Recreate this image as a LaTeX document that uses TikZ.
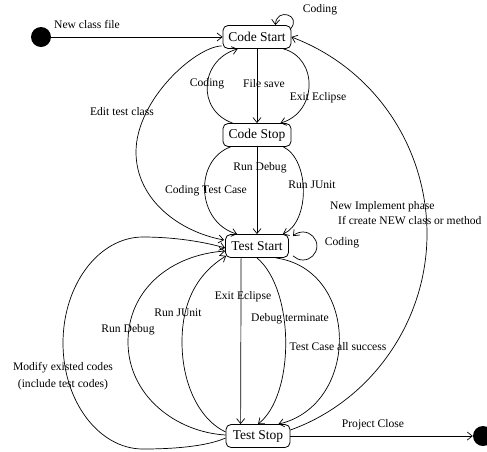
\documentclass[tikz,border=0pt]{standalone}
\usepackage{fontspec}
\setmainfont{Liberation Serif}
\usetikzlibrary{arrows.meta,calc}
\begin{document}
\begin{tikzpicture}[x=1pt,y=-1pt,
  stbox/.style={draw, line width=0.8pt, rounded corners=5pt, minimum height=23pt,
    inner xsep=4pt, font=\fontsize{13.5}{15}\selectfont},
  lbl/.style={font=\fontsize{11.6}{13}\selectfont, inner sep=0pt},
  arr/.style={draw, line width=0.7pt, -{Straight Barb[length=5pt,width=8pt]}},
  blob/.style={circle, fill=black, minimum size=20pt, inner sep=0pt}]
\useasboundingbox (0,0) rectangle (487,451);

% pseudo states
\node[blob] (init) at (41,37) {};
\node[blob] (final) at (483,436) {};

% states
\node[stbox, minimum width=68pt] (cs) at (257,37) {Code Start};
\node[stbox, minimum width=68pt] (cp) at (257,135) {Code Stop};
\node[stbox, minimum width=63pt] (ts) at (257,246) {Test Start};
\node[stbox, minimum width=64pt] (tp) at (258,436) {Test Stop};

% coding phase
\draw[arr] (init) -- (cs);
\draw[arr] ($(cs.north east)+(-1,4)$) .. controls +(12,-14) and +(1,-18) .. ($(cs.north east)+(-16,0)$);
\draw[arr] (cs) -- (cp);
\draw[arr] ($(cp.north west)+(10,0)$) .. controls (196,110) and (200,60) .. ($(cs.south west)+(15,0)$);
\draw[arr] ($(cs.south east)+(-8,0)$) .. controls (318,58) and (318,112) .. ($(cp.north east)+(-11,0)$);

% towards testing
\draw[arr] (cp) -- (ts);
\draw[arr] ($(cp.south west)+(8,0)$) .. controls (194,160) and (196,222) .. ($(ts.north west)+(12,0)$);
\draw[arr] ($(cp.south east)+(-8,0)$) .. controls (310,160) and (310,222) .. ($(ts.north east)+(-6,0)$);
\draw[arr] ($(cs.south west)+(-1,-3)$) .. controls (195,47) and (136,100) .. (136,152)
  .. controls (136,200) and (180,232) .. ($(ts.west)+(-1,-6)$);

% self loop on Test Start
\coordinate (tsc) at ($(ts.east)+(14,0)$);
\draw[arr] ($(tsc)+(-9.9,9.9)$)
  .. controls ($(tsc)+(-7.3,12.5)$) and ($(tsc)+(-3.7,14)$) .. ($(tsc)+(0,14)$)
  .. controls ($(tsc)+(7.7,14)$) and ($(tsc)+(14,7.7)$) .. ($(tsc)+(14,0)$)
  .. controls ($(tsc)+(14,-7.7)$) and ($(tsc)+(7.7,-14)$) .. ($(tsc)+(0,-14)$)
  .. controls ($(tsc)+(-3.7,-14)$) and ($(tsc)+(-7.3,-12.5)$) .. ($(tsc)+(-9.9,-9.9)$);

% back from Test Stop to Test Start
\draw[arr] ($(tp.west)+(0,2)$) .. controls (205,447) and (170,449) .. (143,449)
  .. controls (99,449) and (63,401.5) .. (63,343)
  .. controls (63,284.5) and (99,237) .. (143,237)
  .. controls (175,237) and (205,242) .. ($(ts.west)+(0,2)$);
\draw[arr] ($(tp.west)+(0,-1)$) .. controls (175,432) and (128,395) .. (128,342)
  .. controls (128,290) and (170,255) .. ($(ts.west)+(0,5)$);
\draw[arr] ($(tp.west)+(0,-4)$) .. controls (200,420) and (182,385) .. (182,342)
  .. controls (182,305) and (195,275) .. ($(ts.south west)+(1,-2)$);

% from Test Start to Test Stop
\draw[arr] ($(ts.south west)+(16,0)$) -- ($(tp.north west)+(15,0)$);
\draw[arr] (ts.south) .. controls (295,290) and (295,395) .. (tp.north);
\draw[arr] ($(ts.south east)+(-13,0)$) .. controls (360,270) and (360,405) .. ($(tp.north east)+(-12,0)$);

% new implement phase and project close
\draw[arr] ($(tp.east)+(0,-6)$) .. controls (371.9,400.7) and (427,321) .. (427,234)
  .. controls (427,147) and (374.5,68.4) .. (cs.east);
\draw[arr] (tp) -- (final);

% transition labels
\node[lbl] (l1) at (87,24) {New class file};
\node[lbl] (l2) at (320,10) {Coding};
\node[lbl] (l3) at (264,84) {File save};
\node[lbl] (l4) at (207,84) {Coding};
\node[lbl] (l5) at (318,98) {Exit Eclipse};
\node[lbl] (l6) at (122,112) {Edit test class};
\node[lbl] (l7) at (260,168) {Run Debug};
\node[lbl] (l8) at (206,191) {Coding Test Case};
\node[lbl] (l9) at (312,185) {Run JUnit};
\node[lbl, anchor=west] (l10) at (330,207) {New Implement phase};
\node[lbl, anchor=west] (l11) at (338,220) {If create NEW class or method};
\node[lbl] (l12) at (342,243) {Coding};
\node[lbl] (l13) at (243,297) {Exit Eclipse};
\node[lbl] (l14) at (178,313) {Run JUnit};
\node[lbl] (l15) at (290,319) {Debug terminate};
\node[lbl] (l16) at (128,330) {Run Debug};
\node[lbl] (l17) at (338,347) {Test Case all success};
\node[lbl, align=center, font=\fontsize{11.6}{16.5}\selectfont] (l18) at (63,376) {Modify existed codes\\(include test codes)};
\node[lbl] (l19) at (373,425) {Project Close};
\end{tikzpicture}
\end{document}
